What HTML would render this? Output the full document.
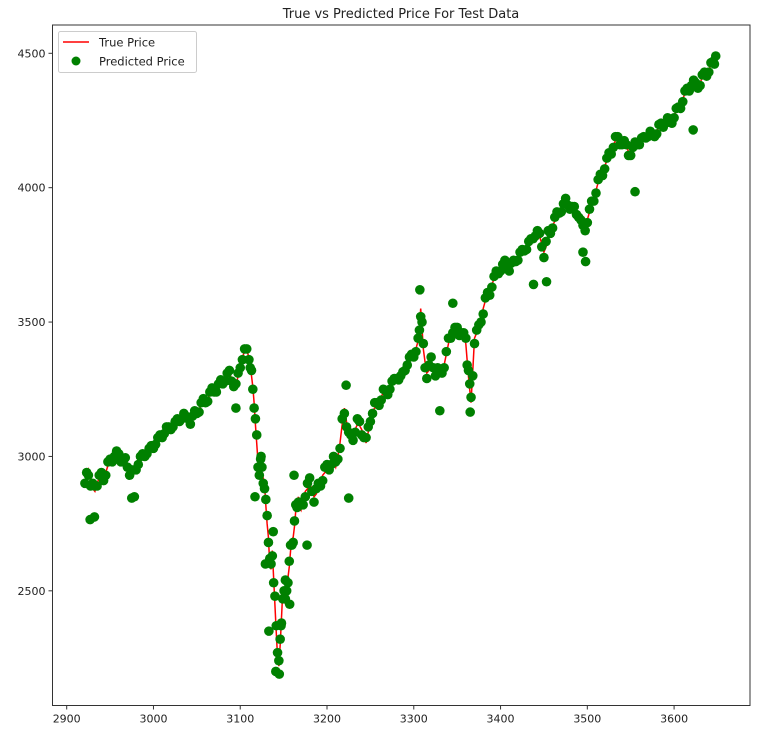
<!DOCTYPE html>
<html><head><meta charset="utf-8">
<style>
html,body{margin:0;padding:0;background:#fff;}
svg{display:block;font-family:"DejaVu Sans","Liberation Sans",sans-serif;}
</style></head>
<body>
<svg id="chart" width="778" height="733" viewBox="0 0 778 733">
<text x="401" y="18" font-size="13" text-anchor="middle" fill="#222">True vs Predicted Price For Test Data</text>
<g id="plot"></g>
<g id="axes"></g>
<g>
<rect x="58.5" y="31.5" width="138" height="41" rx="2" fill="#fff" fill-opacity="0.8" stroke="#ccc"/>
<line x1="63" y1="42" x2="89" y2="42" stroke="red" stroke-width="1.6"/>
<text x="99" y="46.5" font-size="11.5" fill="#222">True Price</text>
<circle cx="76" cy="61" r="4.5" fill="green"/>
<text x="99" y="65.5" font-size="11.5" fill="#222">Predicted Price</text>
</g>
</svg>
<script>
const dates=[2921,2925,2930,2935,2940,2945,2950,2955,2960,2965,2970,2975,2980,2985,2990,2995,3000,3005,3010,3015,3020,3025,3030,3035,3040,3045,3050,3055,3060,3065,3070,3075,3080,3085,3090,3095,3100,3105,3110,3113,3116,3119,3122,3125,3128,3131,3134,3137,3140,3143,3146,3149,3152,3155,3158,3161,3164,3167,3170,3175,3180,3185,3190,3195,3200,3205,3210,3215,3220,3225,3230,3235,3240,3245,3250,3255,3260,3265,3270,3275,3280,3285,3290,3295,3300,3305,3308,3311,3315,3320,3325,3330,3335,3340,3345,3350,3355,3360,3363,3366,3370,3375,3380,3385,3390,3395,3400,3405,3410,3415,3420,3425,3430,3435,3440,3445,3450,3455,3460,3465,3470,3475,3480,3485,3490,3495,3500,3505,3510,3515,3520,3525,3530,3535,3540,3545,3550,3555,3560,3565,3570,3575,3580,3585,3590,3595,3600,3605,3610,3615,3620,3625,3630,3635,3640,3645,3648];
const trueVals=[2890,2950,2880,2900,2920,2940,2980,3010,3000,2990,2970,2930,2960,2990,3010,3020,3040,3060,3080,3100,3110,3120,3140,3150,3150,3140,3170,3190,3210,3230,3250,3260,3280,3300,3290,3260,3340,3390,3370,3300,3200,3050,2950,2940,2900,2750,2600,2650,2450,2250,2300,2500,2450,2550,2650,2700,2800,2850,2800,2870,2900,2850,2880,2930,2950,2990,2960,3050,3180,3070,3080,3120,3100,3050,3150,3180,3200,3240,3240,3270,3300,3280,3330,3360,3380,3430,3550,3400,3310,3350,3320,3300,3340,3420,3470,3460,3470,3420,3300,3200,3440,3480,3550,3600,3640,3680,3700,3720,3700,3720,3740,3760,3780,3800,3830,3820,3760,3820,3860,3900,3920,3950,3930,3920,3900,3840,3880,3940,3990,4040,4080,4120,4160,4180,4170,4150,4130,4160,4170,4180,4200,4190,4210,4230,4250,4240,4270,4290,4330,4360,4390,4380,4390,4420,4440,4460,4480];
const predVals=[2900,2930,2900,2890,2940,2930,2990,3000,3010,2980,2960,2950,2950,3000,3000,3030,3030,3070,3070,3110,3100,3130,3130,3160,3140,3150,3160,3200,3200,3240,3240,3270,3270,3310,3280,3270,3330,3400,3360,3320,3180,3080,2930,2960,2880,2780,2620,2630,2480,2270,2320,2470,2470,2530,2670,2680,2820,2830,2820,2850,2920,2830,2900,2910,2970,2970,2980,3030,3160,3090,3060,3140,3080,3070,3130,3200,3190,3250,3230,3280,3290,3300,3320,3370,3370,3440,3520,3420,3290,3370,3300,3320,3330,3440,3460,3480,3460,3440,3320,3220,3420,3490,3530,3610,3630,3690,3690,3730,3690,3730,3730,3770,3770,3810,3820,3830,3740,3840,3850,3910,3910,3960,3920,3930,3890,3860,3870,3950,3980,4050,4070,4130,4150,4190,4160,4160,4120,4170,4160,4190,4190,4200,4200,4240,4240,4250,4260,4300,4320,4370,4380,4390,4380,4430,4430,4470,4490];
const trueMid=[2930,2910,2870,2920,2925,2965,2990,3015,2990,2985,2945,2935,2980,2995,3020,3025,3055,3065,3095,3100,3120,3125,3150,3140,3130,3160,3175,3205,3215,3245,3250,3275,3290,3310,3270,3300,3370,3395,3340,3260,3120,2980,2970,2920,2820,2700,2580,2550,2350,2220,2400,2480,2520,2590,2690,2740,2830,2810,2840,2880,2880,2860,2910,2940,2960,2980,3000,3120,3130,3060,3100,3115,3080,3090,3170,3185,3220,3230,3260,3280,3295,3300,3350,3365,3400,3480,3480,3350,3320,3340,3310,3320,3380,3450,3470,3460,3450,3360,3250,3320,3460,3510,3580,3615,3660,3690,3705,3715,3705,3735,3745,3775,3785,3820,3830,3790,3780,3845,3875,3915,3930,3945,3920,3910,3870,3855,3910,3960,4020,4055,4100,4135,4175,4170,4165,4135,4140,4170,4170,4195,4200,4195,4225,4235,4250,4250,4285,4305,4350,4370,4390,4380,4410,4425,4455,4470];
const predMid=[2940,2890,2890,2930,2910,2980,2980,3020,2980,2995,2930,2950,2970,3010,3010,3040,3045,3080,3085,3110,3110,3140,3140,3150,3120,3170,3165,3215,3205,3255,3240,3285,3280,3320,3260,3310,3360,3400,3330,3250,3140,2960,2990,2900,2840,2680,2600,2530,2370,2240,2380,2500,2500,2610,2670,2760,2810,2830,2820,2900,2870,2880,2890,2960,2950,3000,2990,3140,3110,3080,3090,3130,3070,3110,3160,3200,3210,3245,3250,3290,3285,3315,3340,3380,3390,3470,3500,3330,3340,3330,3330,3310,3390,3440,3480,3450,3460,3340,3270,3300,3470,3500,3590,3600,3670,3680,3715,3705,3720,3725,3760,3765,3800,3810,3840,3780,3800,3830,3890,3905,3940,3935,3930,3900,3880,3840,3920,3950,4030,4045,4110,4125,4190,4160,4175,4120,4150,4160,4185,4185,4210,4190,4235,4225,4260,4240,4295,4295,4360,4360,4400,4370,4420,4415,4465,4460];
const extraX=[2927,2932,2975,2978,3095,3117,3129,3133,3141,3145,3147,3162,3177,3225,3222,3330,3365,3307,3345,3438,3453,3555,3622,3495,3498,3124,3138,3152,3157];
const extraY=[2765,2775,2845,2850,3180,2850,2600,2350,2200,2190,2370,2930,2670,2845,3265,3170,3165,3620,3570,3640,3650,3985,4215,3760,3725,3000,2720,2540,2450];
const xTicks=[2900,3000,3100,3200,3300,3400,3500,3600];
const yTicks=[2500,3000,3500,4000,4500];
const NS='http://www.w3.org/2000/svg';
const L=52.5,R=750,T=25,B=705.5;
function xs(v){return 66.7+(v-2900)*0.8677;}
function ys(v){return 53.3+(4500-v)*0.26876;}
const plot=document.getElementById('plot'),axes=document.getElementById('axes');
function mk(t,a,p){const e=document.createElementNS(NS,t);for(const k in a)e.setAttribute(k,a[k]);p.appendChild(e);return e;}
const pts=[];
dates.forEach((x,i)=>{pts.push([x,trueVals[i],predVals[i]]);if(i<trueMid.length)pts.push([(x+dates[i+1])/2,trueMid[i],predMid[i]]);});
let d='';pts.forEach((p,i)=>{d+=(i?'L':'M')+xs(p[0]).toFixed(1)+' '+ys(p[1]).toFixed(1);});
const line=mk('path',{d:d,fill:'none',stroke:'red','stroke-width':1.5},plot);


pts.forEach(p=>{const c=mk('circle',{cx:xs(p[0]),cy:ys(p[2]),r:4.8,fill:'green'},plot);

});
extraX.forEach((x,i)=>{const c=mk('circle',{cx:xs(x),cy:ys(extraY[i]),r:4.8,fill:'green'},plot);

});
const fr=mk('rect',{x:L,y:T,width:R-L,height:B-T,fill:'none',stroke:'#333','stroke-width':1},axes);


xTicks.forEach(v=>{const x=xs(v);mk('line',{x1:x,y1:B,x2:x,y2:B+4,stroke:'#333'},axes);
const t=mk('text',{x:x,y:B+17,'font-size':11,'text-anchor':'middle',fill:'#222'},axes);t.textContent=v;

});
yTicks.forEach(v=>{const y=ys(v);mk('line',{x1:L-4,y1:y,x2:L,y2:y,stroke:'#333'},axes);
const t=mk('text',{x:L-7,y:y+4,'font-size':11,'text-anchor':'end',fill:'#222'},axes);t.textContent=v;

});
</script>
</body></html>
